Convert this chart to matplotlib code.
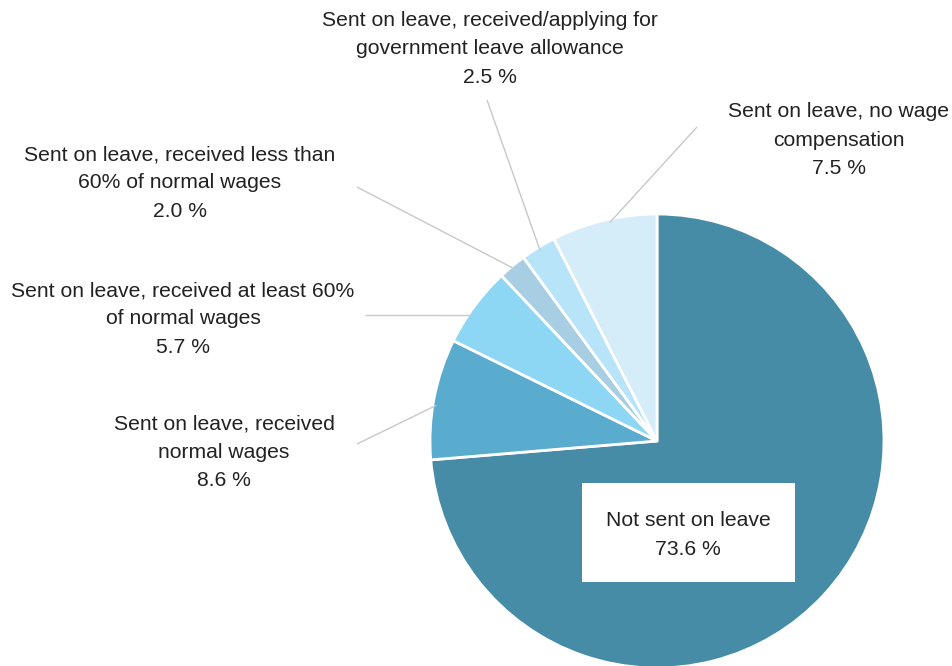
import numpy as np
import matplotlib
matplotlib.use("Agg")
import matplotlib.pyplot as plt
from matplotlib.patches import Rectangle

plt.rcParams['font.family'] = ['Liberation Sans', 'DejaVu Sans']

categories = [
    "Not sent on leave",
    "Sent on leave, received\nnormal wages",
    "Sent on leave, received at least 60%\nof normal wages",
    "Sent on leave, received less than\n60% of normal wages",
    "Sent on leave, received/applying for\ngovernment leave allowance",
    "Sent on leave, no wage\ncompensation",
]
values = [73.6, 8.6, 5.7, 2.0, 2.5, 7.5]
colors = ["#478ca7", "#5aacce", "#8dd7f5", "#a7cee3", "#b7e4f8", "#d5ecf9"]

W, H = 953, 666
fig = plt.figure(figsize=(W / 100, H / 100), dpi=100)
ax = fig.add_axes([0, 0, 1, 1])

cx, cy, R = 657, H - 441, 227
wedges, _ = ax.pie(values, colors=colors, startangle=90, counterclock=False,
                   center=(cx, cy), radius=R, frame=True,
                   wedgeprops=dict(edgecolor='white', linewidth=2.0))
ax.set_xlim(0, W)
ax.set_ylim(0, H)
ax.set_aspect('equal')
ax.axis('off')
for w in wedges:
    w.set_clip_on(True)

txtcol = "#222222"
fs = 15.2
ls = 1.62
# label layout (pixel positions): text center, leader end (None y = horizontal leader)
layout = {
    1: ((224, 452), (357, 444), 0.55),
    2: ((183, 319), (365, None), 0.6),
    3: ((180, 183), (357, 187), 0.5),
    4: ((490, 49), (487, 100), 0.5),
    5: ((839, 140), (697, 127), 0.45),
}
for i, ((tx, ty), (lx, ly), frac) in layout.items():
    w = wedges[i]
    ang = np.deg2rad(w.theta1 + frac * (w.theta2 - w.theta1))
    px = cx + 0.985 * R * np.cos(ang)
    py = cy + 0.985 * R * np.sin(ang)
    ey = py if ly is None else H - ly
    ax.plot([px, lx], [py, ey], color="#c8c8c8", lw=1.0, solid_capstyle='butt')
    ax.text(tx, H - ty, f"{categories[i]}\n{values[i]:.1f} %", ha='center', va='center',
            fontsize=fs, color=txtcol, linespacing=ls)

ax.add_patch(Rectangle((582, H - 582), 213, 99, facecolor='white', edgecolor='none', zorder=3))
ax.text(688, H - 535, f"{categories[0]}\n{values[0]:.1f} %", ha='center', va='center',
        fontsize=fs, color=txtcol, linespacing=ls, zorder=4)

fig.savefig("out.png", dpi=100)
